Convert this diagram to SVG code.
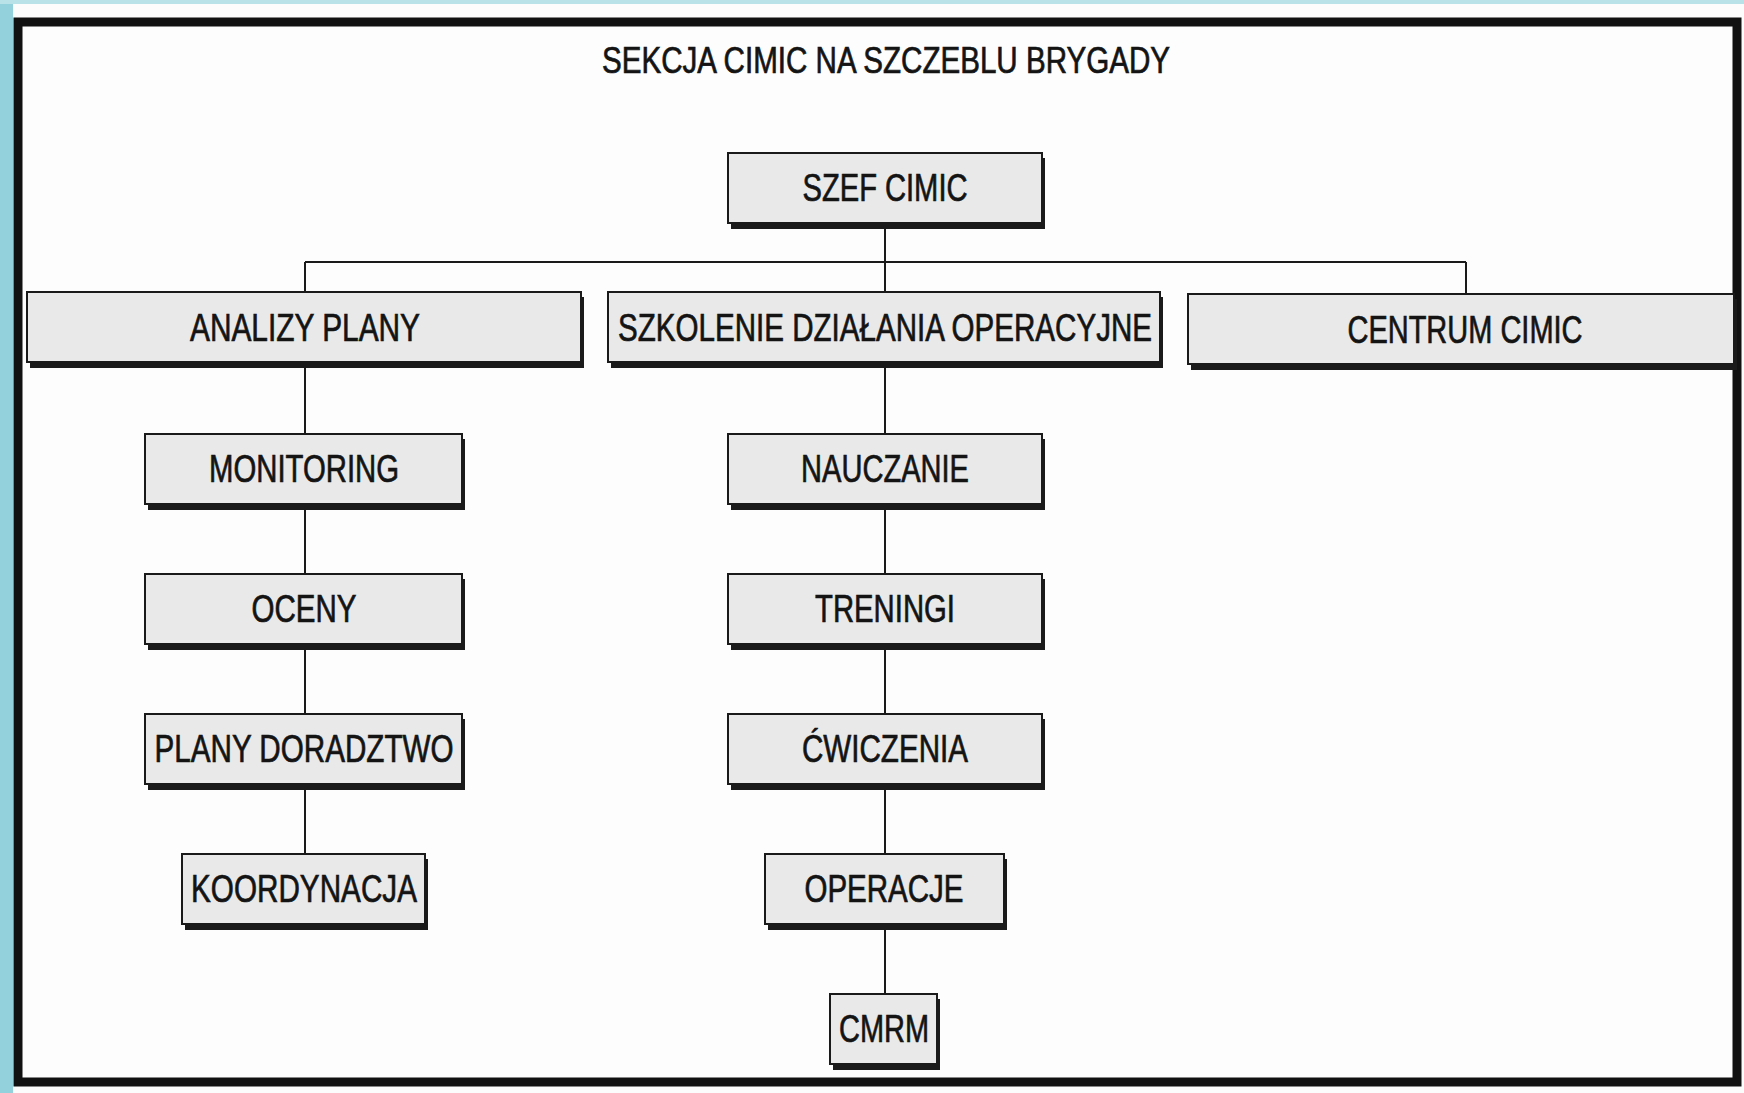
<svg xmlns="http://www.w3.org/2000/svg" width="1744" height="1093" viewBox="0 0 1744 1093">
<style>
.box{fill:#e9e9e9;stroke:#1a1a1a;stroke-width:2}
.sh{fill:#1a1a1a}
.t{font-family:"Liberation Sans Narrow","Liberation Sans",Arial,sans-serif;font-size:39px;fill:#141414;stroke:#141414;stroke-width:0.7;text-anchor:middle}
.ti{font-size:36px}
.c{stroke:#1a1a1a;stroke-width:2;fill:none}
</style>
<rect x="0" y="0" width="1744" height="1093" fill="#fcfcfc"/>
<rect x="0" y="0" width="13" height="1093" fill="#93d2dc"/>
<rect x="0" y="0" width="1744" height="4" fill="#b8e2e8"/>
<rect x="18" y="22" width="1719" height="1060" fill="#fdfdfd" stroke="#111" stroke-width="9"/>
<text class="t ti" x="886" y="73" textLength="568" lengthAdjust="spacingAndGlyphs">SEKCJA CIMIC NA SZCZEBLU BRYGADY</text>
<g id="connectors">
<path class="c" d="M885 223V292M305 262H1466M305 262V292M1466 262V294"/>
<path class="c" d="M305 364V434M305 504V574M305 644V714M305 784V854"/>
<path class="c" d="M885 364V434M885 504V574M885 644V714M885 784V854M885 924V994"/>
</g>
<g id="szef"><rect class="sh" x="731" y="158" width="314" height="71"/><rect class="box" x="728" y="153" width="314" height="70"/><text class="t" x="885" y="201" textLength="165" lengthAdjust="spacingAndGlyphs">SZEF CIMIC</text></g>
<g id="analizy"><rect class="sh" x="30" y="297" width="554" height="71"/><rect class="box" x="27" y="292" width="554" height="70"/><text class="t" x="305" y="341" textLength="230" lengthAdjust="spacingAndGlyphs">ANALIZY PLANY</text></g>
<g id="szkolenie"><rect class="sh" x="611" y="297" width="552" height="71"/><rect class="box" x="608" y="292" width="552" height="70"/><text class="t" x="885" y="341" textLength="534" lengthAdjust="spacingAndGlyphs">SZKOLENIE DZIAŁANIA OPERACYJNE</text></g>
<g id="centrum"><rect class="sh" x="1191" y="299" width="546" height="71"/><rect class="box" x="1188" y="294" width="546" height="70"/><text class="t" x="1465" y="343" textLength="235" lengthAdjust="spacingAndGlyphs">CENTRUM CIMIC</text></g>
<g id="monitoring"><rect class="sh" x="148" y="439" width="317" height="71"/><rect class="box" x="145" y="434" width="317" height="70"/><text class="t" x="304" y="482" textLength="190" lengthAdjust="spacingAndGlyphs">MONITORING</text></g>
<g id="oceny"><rect class="sh" x="148" y="579" width="317" height="71"/><rect class="box" x="145" y="574" width="317" height="70"/><text class="t" x="304" y="622" textLength="105" lengthAdjust="spacingAndGlyphs">OCENY</text></g>
<g id="plany"><rect class="sh" x="148" y="719" width="317" height="71"/><rect class="box" x="145" y="714" width="317" height="70"/><text class="t" x="304" y="762" textLength="299" lengthAdjust="spacingAndGlyphs">PLANY DORADZTWO</text></g>
<g id="koordynacja"><rect class="sh" x="185" y="859" width="243" height="71"/><rect class="box" x="182" y="854" width="243" height="70"/><text class="t" x="304" y="902" textLength="226" lengthAdjust="spacingAndGlyphs">KOORDYNACJA</text></g>
<g id="nauczanie"><rect class="sh" x="731" y="439" width="314" height="71"/><rect class="box" x="728" y="434" width="314" height="70"/><text class="t" x="885" y="482" textLength="168" lengthAdjust="spacingAndGlyphs">NAUCZANIE</text></g>
<g id="treningi"><rect class="sh" x="731" y="579" width="314" height="71"/><rect class="box" x="728" y="574" width="314" height="70"/><text class="t" x="885" y="622" textLength="140" lengthAdjust="spacingAndGlyphs">TRENINGI</text></g>
<g id="cwiczenia"><rect class="sh" x="731" y="719" width="314" height="71"/><rect class="box" x="728" y="714" width="314" height="70"/><text class="t" x="885" y="762" textLength="166" lengthAdjust="spacingAndGlyphs">ĆWICZENIA</text></g>
<g id="operacje"><rect class="sh" x="768" y="859" width="239" height="71"/><rect class="box" x="765" y="854" width="239" height="70"/><text class="t" x="884" y="902" textLength="159" lengthAdjust="spacingAndGlyphs">OPERACJE</text></g>
<g id="cmrm"><rect class="sh" x="833" y="999" width="107" height="71"/><rect class="box" x="830" y="994" width="107" height="70"/><text class="t" x="884" y="1042" textLength="90" lengthAdjust="spacingAndGlyphs">CMRM</text></g>
</svg>
